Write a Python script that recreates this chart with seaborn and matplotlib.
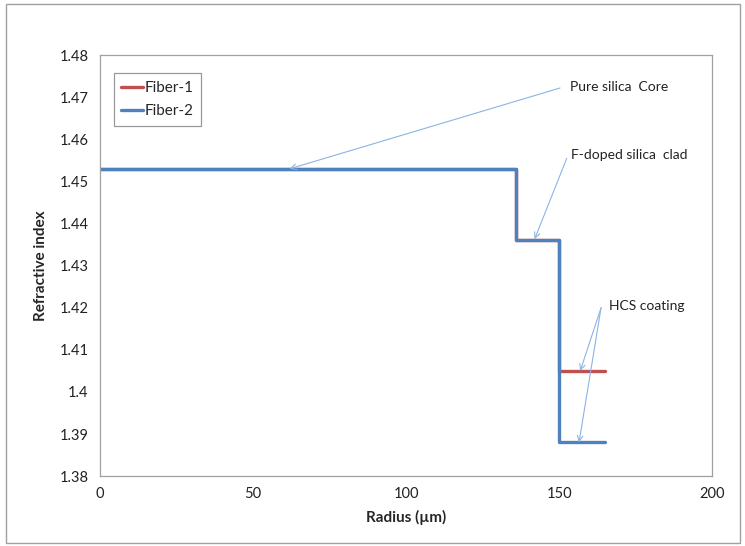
import numpy as np
import pandas as pd
import matplotlib
matplotlib.use("Agg")
import matplotlib.pyplot as plt
import seaborn as sns
from matplotlib.patches import Rectangle

# layer boundaries (um) and refractive index per layer
layer_edges = [0, 136, 150, 165]
fiber1_index = [1.453, 1.436, 1.405]
fiber2_index = [1.453, 1.436, 1.388]
fibers = ["Fiber-1", "Fiber-2"]


def step_profile(edges, levels):
    xs, ys = [], []
    for i, lev in enumerate(levels):
        xs += [edges[i], edges[i + 1]]
        ys += [lev, lev]
    return xs, ys


rows = []
for name, levels in zip(fibers, [fiber1_index, fiber2_index]):
    xs, ys = step_profile(layer_edges, levels)
    for k, (xv, yv) in enumerate(zip(xs, ys)):
        rows.append({"Radius": xv, "Index": yv, "Fiber": name, "order": k})
df = pd.DataFrame(rows)

sns.set_style("white")
plt.rcParams["font.family"] = ["Lato", "DejaVu Sans"]

fig = plt.figure(figsize=(7.45, 5.46), dpi=100)
ax = fig.add_axes([0.134, 0.128, 0.822, 0.771])

sns.lineplot(data=df, x="Radius", y="Index", hue="Fiber", sort=False,
             estimator=None, palette=["#C0504D", "#4F81BD"], linewidth=2.4,
             ax=ax)

ax.set_xlim(0, 200)
ax.set_ylim(1.38, 1.48)
yt = np.round(np.arange(1.38, 1.4801, 0.01), 2)
ax.set_xticks(np.arange(0, 201, 50))
ax.set_yticks(yt)
ax.set_yticklabels([f"{v:g}" for v in yt])
ax.tick_params(labelsize=10.5, length=0, pad=8, colors="#222222")
for s in ax.spines.values():
    s.set_color("#A0A0A0")
    s.set_linewidth(0.9)

ax.set_xlabel("Radius (\u00b5m)", fontsize=11, fontweight="bold", labelpad=6)
ax.set_ylabel("Refractive index", fontsize=11, fontweight="bold", labelpad=8)

leg = ax.legend(loc="upper left", bbox_to_anchor=(0.01, 0.975), frameon=True,
                fancybox=False, edgecolor="#808080", fontsize=11,
                handlelength=1.4, handletextpad=0.1, borderpad=0.5,
                labelspacing=0.6)
leg.get_frame().set_linewidth(0.9)

arrow = dict(arrowstyle="->", color="#8DB3E2", lw=0.8, shrinkA=0, shrinkB=0)
txt = dict(fontsize=10, va="center", ha="left", color="#222222")
ax.annotate("", xy=(62, 1.453), xytext=(150.3, 1.4722), arrowprops=arrow)
ax.text(153.5, 1.4724, "Pure silica  Core", **txt)
ax.annotate("", xy=(142, 1.4363), xytext=(152.5, 1.4555), arrowprops=arrow)
ax.text(154, 1.4562, "F-doped silica  clad", **txt)
ax.annotate("", xy=(156.9, 1.405), xytext=(163.7, 1.4200), arrowprops=arrow)
ax.annotate("", xy=(156.5, 1.388), xytext=(163.7, 1.4200), arrowprops=arrow)
ax.text(166.3, 1.4203, "HCS coating", **txt)

fig.patches.append(Rectangle((0.008, 0.005), 0.985, 0.988, transform=fig.transFigure,
                             fill=False, edgecolor="#A0A0A0", linewidth=1.0))

fig.savefig("out.png", dpi=100)
